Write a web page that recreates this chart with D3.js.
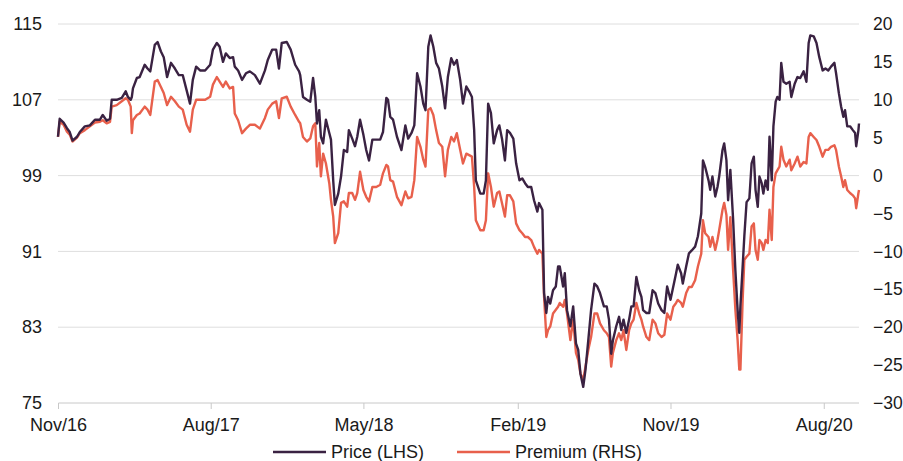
<!DOCTYPE html>
<html>
<head>
<meta charset="utf-8">
<script src="https://cdn.jsdelivr.net/npm/d3@7"></script>
<style>
  body { margin: 0; background: #fff; }
  svg text { font-family: "Liberation Sans", Arial, sans-serif; font-size: 18px; fill: #1a1a1a; }
</style>
</head>
<body>
<svg id="chart"></svg>
<script>
var dates = [
  "2016-11-01","2016-11-04","2016-11-11","2016-11-17","2016-11-22","2016-11-27","2016-12-05","2016-12-10","2016-12-19","2016-12-28",
  "2017-01-06","2017-01-15","2017-01-20","2017-01-27","2017-02-02","2017-02-05","2017-02-14","2017-02-23","2017-03-02","2017-03-06",
  "2017-03-11","2017-03-13","2017-03-15","2017-03-22","2017-03-27","2017-04-05","2017-04-10","2017-04-15","2017-04-23","2017-04-28",
  "2017-05-04","2017-05-09","2017-05-15","2017-05-22","2017-05-29","2017-06-05","2017-06-12","2017-06-19","2017-06-25","2017-06-30",
  "2017-07-06","2017-07-13","2017-07-22","2017-07-31","2017-08-05","2017-08-12","2017-08-17","2017-08-23","2017-08-28","2017-09-04",
  "2017-09-10","2017-09-13","2017-09-19","2017-09-26","2017-10-03","2017-10-10","2017-10-19","2017-10-28","2017-11-06","2017-11-11",
  "2017-11-19","2017-11-26","2017-12-01","2017-12-06","2017-12-15","2017-12-22","2017-12-30","2018-01-06","2018-01-08","2018-01-13",
  "2018-01-20","2018-01-26","2018-01-31","2018-02-04","2018-02-07","2018-02-11","2018-02-14","2018-02-18","2018-02-23","2018-03-01",
  "2018-03-04","2018-03-08","2018-03-11","2018-03-17","2018-03-22","2018-03-27","2018-04-02","2018-04-05","2018-04-11","2018-04-16",
  "2018-04-20","2018-04-25","2018-05-01","2018-05-06","2018-05-11","2018-05-17","2018-05-24","2018-05-31","2018-06-05","2018-06-11",
  "2018-06-14","2018-06-18","2018-06-23","2018-06-30","2018-07-08","2018-07-15","2018-07-20","2018-07-26","2018-07-31","2018-08-05",
  "2018-08-11","2018-08-16","2018-08-20","2018-08-25","2018-08-29","2018-09-03","2018-09-08","2018-09-13","2018-09-19","2018-09-24",
  "2018-09-29","2018-10-05","2018-10-10","2018-10-15","2018-10-21","2018-10-26","2018-11-01","2018-11-06","2018-11-11","2018-11-15",
  "2018-11-18","2018-11-26","2018-12-02","2018-12-06","2018-12-10","2018-12-15","2018-12-20","2018-12-26","2018-12-30","2019-01-04",
  "2019-01-09","2019-01-13","2019-01-18","2019-01-24","2019-01-29","2019-02-04","2019-02-09","2019-02-14","2019-02-19","2019-02-25",
  "2019-03-02","2019-03-08","2019-03-11","2019-03-17","2019-03-20","2019-03-24","2019-03-27","2019-03-31","2019-04-05","2019-04-10",
  "2019-04-14","2019-04-17","2019-04-23","2019-04-26","2019-04-30","2019-05-06","2019-05-11","2019-05-16","2019-05-20","2019-05-24",
  "2019-05-29","2019-06-02","2019-06-07","2019-06-12","2019-06-18","2019-06-23","2019-06-28","2019-07-05","2019-07-10","2019-07-14",
  "2019-07-18","2019-07-21","2019-07-27","2019-08-01","2019-08-05","2019-08-09","2019-08-14","2019-08-19","2019-08-23","2019-08-27",
  "2019-09-01","2019-09-06","2019-09-10","2019-09-13","2019-09-19","2019-09-24","2019-09-30","2019-10-05","2019-10-10","2019-10-16",
  "2019-10-21","2019-10-26","2019-11-01","2019-11-06","2019-11-11","2019-11-14","2019-11-20","2019-11-23","2019-11-29","2019-12-04",
  "2019-12-09","2019-12-15","2019-12-20","2019-12-26","2019-12-29","2020-01-02","2020-01-08","2020-01-11","2020-01-15","2020-01-20",
  "2020-01-24","2020-01-27","2020-02-02","2020-02-05","2020-02-09","2020-02-12","2020-02-16","2020-02-21","2020-02-25","2020-02-29",
  "2020-03-03","2020-03-05","2020-03-09","2020-03-12","2020-03-16","2020-03-21","2020-03-25","2020-03-29","2020-04-01","2020-04-05",
  "2020-04-08","2020-04-12","2020-04-15","2020-04-19","2020-04-23","2020-04-26","2020-04-30","2020-05-03","2020-05-07","2020-05-10",
  "2020-05-14","2020-05-17","2020-05-21","2020-05-26","2020-06-01","2020-06-04","2020-06-10","2020-06-15","2020-06-20","2020-06-26",
  "2020-07-01","2020-07-05","2020-07-08","2020-07-14","2020-07-19","2020-07-24","2020-07-30","2020-08-04","2020-08-09","2020-08-14",
  "2020-08-20","2020-08-23","2020-08-28","2020-09-01","2020-09-05","2020-09-08","2020-09-12","2020-09-17","2020-09-22","2020-09-26",
  "2020-09-28","2020-10-02","2020-10-03"
];

var price = [
  103.1,105.0,104.6,104.0,103.6,102.7,103.1,103.6,104.2,104.3,
  104.9,104.9,105.4,104.8,105.0,107.0,107.0,107.2,107.9,107.3,
  107.0,107.3,108.2,109.3,109.4,110.7,110.3,110.0,112.8,113.1,
  112.1,111.5,109.4,110.9,110.3,109.6,109.6,108.0,106.6,109.1,
  110.5,110.1,110.1,110.7,112.3,113.0,112.6,111.0,111.9,111.4,
  111.5,110.5,110.1,109.1,109.8,110.0,109.6,108.7,110.1,111.2,
  112.3,112.3,110.3,113.0,113.1,112.3,110.7,110.0,109.6,107.3,
  107.0,106.8,109.3,107.3,104.5,105.9,103.1,102.4,104.9,103.5,
  102.8,98.5,95.9,97.1,98.9,101.7,101.5,103.8,102.9,102.1,
  103.1,104.9,103.3,101.7,100.6,102.8,102.8,102.8,103.6,107.2,
  107.0,105.2,104.9,103.1,101.7,104.3,102.9,103.5,104.3,109.8,
  108.4,106.6,105.9,112.6,113.8,112.6,110.9,110.3,108.4,106.1,
  109.4,111.4,110.7,111.2,109.1,106.6,108.4,107.9,107.3,103.8,
  98.5,97.1,97.1,98.5,106.6,105.6,102.4,103.8,104.3,102.8,
  100.6,103.8,103.5,102.9,100.3,98.5,98.7,98.2,97.8,97.8,
  96.4,95.2,96.1,95.4,86.6,84.5,86.2,85.5,86.9,87.3,
  89.4,89.4,87.3,88.7,84.8,83.1,85.2,81.3,80.6,78.1,
  76.7,78.5,81.6,84.8,87.6,87.3,86.6,85.2,85.2,83.8,
  80.2,81.6,83.1,84.1,82.7,83.8,82.4,83.8,85.2,85.2,
  88.3,86.9,86.2,84.8,84.5,84.5,86.9,86.6,85.5,84.8,
  84.5,87.3,85.9,87.3,88.7,89.6,88.7,87.6,89.4,90.8,
  91.1,91.5,92.6,95.0,100.6,99.9,98.5,97.5,98.9,96.8,
  97.8,98.9,101.7,102.4,100.6,96.4,99.6,94.3,89.0,84.8,
  82.4,85.2,89.4,92.6,96.2,96.6,100.3,101.0,97.5,95.7,
  98.9,98.2,97.1,98.5,97.5,103.1,98.5,104.2,106.8,107.3,
  107.0,110.9,108.9,108.7,108.9,107.3,108.7,109.4,109.3,110.0,
  108.9,113.0,113.8,113.7,113.0,111.5,110.1,110.3,110.1,110.5,
  110.9,109.8,107.7,106.3,105.2,105.9,104.2,104.2,103.8,103.5,
  102.1,103.8,104.5
];

var premium = [
  5.1,7.1,6.7,5.8,5.4,4.5,5.0,5.6,6.0,6.5,
  7.0,7.1,7.3,6.9,7.1,9.1,9.3,9.8,10.2,10.0,
  9.1,5.6,7.3,8.0,8.2,9.1,8.7,8.0,12.4,12.6,
  11.7,10.9,9.3,10.4,9.8,9.1,8.7,6.7,5.8,8.7,
  10.0,10.0,10.0,10.4,12.0,13.0,12.4,11.7,12.4,11.5,
  11.7,8.2,7.3,5.6,6.2,6.7,6.7,6.2,7.6,8.7,
  9.5,9.8,7.6,10.2,10.4,9.1,8.0,7.1,6.9,5.1,
  4.5,4.9,6.5,6.9,1.2,4.3,-0.1,2.9,1.6,-1.0,
  -3.2,-5.4,-8.9,-7.6,-3.6,-3.4,-4.1,-2.3,-2.3,-3.2,
  -2.3,0.5,-1.9,-2.8,-3.4,-1.5,-1.5,-1.2,0.3,1.4,
  1.2,-0.6,-0.8,-2.8,-3.9,-2.1,-3.0,-2.8,-0.6,5.1,
  3.8,2.1,1.2,8.7,8.9,8.0,6.0,4.3,3.8,-0.1,
  3.4,5.1,4.5,5.6,3.4,1.6,2.9,2.7,2.5,-1.5,
  -5.9,-7.2,-7.2,-5.9,0.3,-1.5,-4.1,-2.3,-2.1,-3.7,
  -5.4,-2.6,-2.6,-3.4,-6.3,-7.2,-7.6,-8.1,-8.1,-8.5,
  -9.4,-10.3,-9.8,-10.3,-16.0,-21.3,-20.4,-19.9,-18.2,-17.7,
  -17.3,-16.8,-17.3,-16.4,-18.2,-21.7,-19.0,-23.4,-24.3,-26.1,
  -27.0,-25.2,-23.0,-21.3,-18.2,-18.2,-19.5,-20.4,-20.8,-21.3,
  -25.2,-23.4,-21.7,-20.8,-21.7,-20.4,-23.0,-20.4,-19.5,-19.0,
  -16.8,-18.2,-19.0,-19.9,-21.3,-21.7,-19.0,-19.5,-20.8,-21.3,
  -21.0,-18.2,-19.0,-17.3,-16.8,-16.4,-16.8,-17.3,-15.5,-14.7,
  -14.7,-13.8,-12.0,-10.3,-5.9,-7.6,-8.1,-9.4,-8.1,-9.8,
  -8.5,-7.2,-4.5,-3.6,-5.2,-9.8,-5.5,-12.5,-17.7,-21.7,
  -25.6,-25.6,-16.4,-11.1,-10.7,-10.3,-6.7,-6.3,-9.8,-11.1,
  -8.5,-8.9,-9.8,-8.5,-8.9,-4.5,-8.5,-1.5,0.3,0.7,
  1.2,3.8,2.1,1.2,2.1,0.7,1.6,2.5,1.2,1.8,
  1.6,5.1,5.6,5.1,4.7,3.8,2.5,3.4,3.4,3.8,
  4.0,3.4,1.2,-0.1,-1.5,-0.6,-1.9,-2.3,-2.6,-3.0,
  -4.3,-2.3,-1.9
];

var xTicks = ["2016-11-01","2017-08-01","2018-05-01","2019-02-01","2019-11-01","2020-08-01"];
var leftTicks = [75, 83, 91, 99, 107, 115];
var rightTicks = [-30, -25, -20, -15, -10, -5, 0, 5, 10, 15, 20];
var seriesNames = ["Price (LHS)", "Premium (RHS)"];

var width = 903;
var height = 461;
var margin = {top:24, right:44, bottom:58, left:58};
var colors = ["#3a2242", "#e8604c"];

var parse = d3.timeParse("%Y-%m-%d");
var parsedDates = dates.map(parse);

var svg = d3.select('#chart')
    .attr('width', width)
    .attr('height', height);

const inner_width = width - margin.left - margin.right;
const inner_height = height - margin.top - margin.bottom;

const chart = svg.append('g')
    .attr('transform', `translate(${margin.left}, ${margin.top})`);

const xscale = d3.scaleTime()
    .domain([parse("2016-11-01"), parse("2020-10-03")])
    .range([0, inner_width]);

const yleft = d3.scaleLinear()
    .domain([75, 115])
    .range([inner_height, 0]);

const yright = d3.scaleLinear()
    .domain([-30, 20])
    .range([inner_height, 0]);

// grid lines
chart.append('g')
    .selectAll('line')
    .data(leftTicks.slice(1))
    .join('line')
    .attr('x1', 0)
    .attr('x2', inner_width)
    .attr('y1', d => yleft(d))
    .attr('y2', d => yleft(d))
    .attr('stroke', '#dedede')
    .attr('stroke-width', 1);

// axes
const xaxis = d3.axisBottom(xscale)
    .tickValues(xTicks.map(parse))
    .tickFormat(d3.timeFormat("%b/%y"))
    .tickSize(6)
    .tickPadding(9);

const xg = chart.append('g')
    .attr('transform', `translate(0, ${inner_height})`)
    .call(xaxis);
xg.select('.domain').attr('stroke', '#c8c8c8').attr('d', `M0.5,0H${inner_width}`);
xg.selectAll('.tick line').attr('stroke', '#c8c8c8');
xg.selectAll('text').attr('fill', '#1a1a1a').style('font-size', '18px');

const lg = chart.append('g')
    .call(d3.axisLeft(yleft).tickValues(leftTicks).tickSize(0).tickPadding(16));
lg.select('.domain').remove();
lg.selectAll('text').attr('fill', '#1a1a1a').style('font-size', '18px');

const rg = chart.append('g')
    .attr('transform', `translate(${inner_width}, 0)`)
    .call(d3.axisRight(yright).tickValues(rightTicks).tickSize(0).tickPadding(14));
rg.select('.domain').remove();
rg.selectAll('text').attr('fill', '#1a1a1a').style('font-size', '17.5px');

// lines
const priceLine = d3.line()
    .x((d, i) => xscale(parsedDates[i]))
    .y(d => yleft(d));

const premLine = d3.line()
    .x((d, i) => xscale(parsedDates[i]))
    .y(d => yright(d));

chart.append('path')
    .attr('d', premLine(premium))
    .attr('stroke', colors[1])
    .attr('stroke-width', 2.4)
    .attr('stroke-linejoin', 'round')
    .attr('fill', 'none');

chart.append('path')
    .attr('d', priceLine(price))
    .attr('stroke', colors[0])
    .attr('stroke-width', 2.4)
    .attr('stroke-linejoin', 'round')
    .attr('fill', 'none');

// legend
const legendX = [273, 457];
const legend = svg.append('g');
seriesNames.forEach((name, i) => {
  legend.append('line')
      .attr('x1', legendX[i])
      .attr('x2', legendX[i] + 53)
      .attr('y1', 452)
      .attr('y2', 452)
      .attr('stroke', colors[i])
      .attr('stroke-width', 2.5);
  legend.append('text')
      .attr('x', legendX[i] + 58)
      .attr('y', 452)
      .attr('dy', '0.35em')
      .text(name);
});
</script>
</body>
</html>
